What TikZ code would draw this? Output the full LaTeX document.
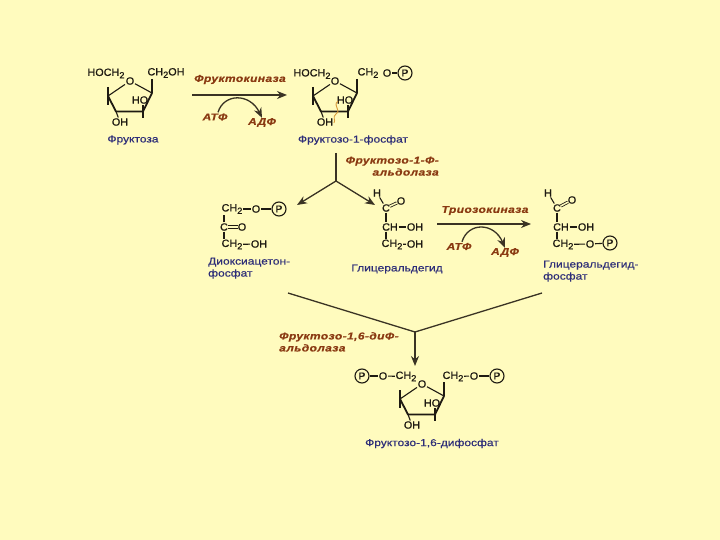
\documentclass[tikz,border=0pt]{standalone}
\usepackage{fontspec}
\setmainfont{Liberation Sans}
\newfontfamily\enzfont[FakeStretch=1.2,LetterSpace=4,FakeBold=0.4]{Liberation Sans Bold Italic}
\newfontfamily\lblfont[FakeStretch=1.2,FakeBold=0.5]{Liberation Sans}
\newfontfamily\chemfont[FakeStretch=1.03,FakeBold=0.9]{Liberation Sans}
\usetikzlibrary{arrows.meta,calc}
\definecolor{pageYel}{HTML}{FFFBBE}
\definecolor{ink}{HTML}{1E1A12}
\definecolor{lineInk}{HTML}{3A3324}
\definecolor{enzBrown}{HTML}{8A3A12}
\definecolor{lblBlue}{HTML}{2E2E78}
\definecolor{nickOrange}{HTML}{D89A3A}
\newcommand{\chemtwo}{\raisebox{-2.5pt}{\fontsize{9}{9}\selectfont 2}}
% furanose ring: name prefix, shift x, shift y
\newcommand{\furanring}[3]{%
  \begin{scope}[shift={(#2,#3)}]
    \node[chem] (#1o) at (130,-81) {O};
    \node[chem] (#1ho) at (140,-100) {HO};
    \node[chem] (#1oh) at (120,-122) {OH};
    \coordinate (#1a) at (108,-96);
    \coordinate (#1b) at (116,-111.5);
    \coordinate (#1c) at (143,-111.5);
    \coordinate (#1d) at (152,-93);
    \draw[bond] (#1a) -- (#1o);
    \draw[bond] (#1o) -- (#1d);
    \draw[front] (#1a) -- (#1b) -- (#1c) -- (#1d);
    \draw[bond] (108,-87) -- (#1a) -- (108,-105);
    \draw[bond] (152,-79) -- (#1d);
    \draw[bond] (#1b) -- (#1oh);
    \draw[bond] (143,-105) -- (143,-118);
  \end{scope}}
\begin{document}
\begin{tikzpicture}[x=1pt,y=1pt,
    chem/.style={font=\chemfont\fontsize{10.5}{11}\selectfont,text=ink,inner sep=0.6pt},
    cname/.style={font=\lblfont\fontsize{10}{12}\selectfont,text=lblBlue,inner sep=0pt,align=left},
    enzyme/.style={font=\enzfont\fontsize{10}{12}\selectfont,text=enzBrown,inner sep=0pt},
    phos/.style={draw=ink,line width=1.1pt,circle,minimum size=14pt,inner sep=0pt,text=ink,font=\chemfont\fontsize{10}{10}\selectfont},
    bond/.style={draw=ink,line width=1.1pt},
    dbond/.style={draw=ink,double=pageYel,double distance=1.5pt,line width=0.8pt,shorten <=-1pt,shorten >=-1pt},
    front/.style={draw=ink,line width=1.8pt,line join=round},
    flow/.style={-{Stealth[length=10pt,width=8pt]},line width=1.3pt,draw=lineInk},
    plainline/.style={line width=1.3pt,draw=lineInk}]

\useasboundingbox (0,0) rectangle (720,-540);
\fill[pageYel] (0,0) rectangle (720,-540);

% ======================= fructose =====================================================
\furanring{f}{0}{0}
\node[chem] (fleft) at (106,-73.5) {HOCH\chemtwo};
\node[chem] (fright) at (166,-73) {CH\chemtwo OH};
\node[cname] (fname) at (133,-140) {Фруктоза};

% ======================= first kinase step ============================================
\node[enzyme] (kin1) at (240,-79.5) {Фруктокиназа};
\coordinate (kin1a) at (192,-95);
\coordinate (kin1b) at (287,-95);
\draw[flow] (kin1a) -- (kin1b);
\node[enzyme] (atp1) at (215,-117) {АТФ};
\node[enzyme] (adp1) at (262,-122.5) {АДФ};
\draw[flow] (atp1.north) ++(3,1) .. controls (224,-93) and (250,-93) .. (adp1.north);

% ======================= fructose-1-phosphate =========================================
\furanring{m}{205}{0}
\node[chem] (mleft) at (312,-74) {HOCH\chemtwo};
\node[chem] (mright) at (368,-73) {CH\chemtwo};
\node[chem] (mo) at (387,-73) {O};
\node[phos] (mp) at (405,-73) {P};
\draw[bond] (mo) -- (mp);
\node[cname] (mname) at (353,-140) {Фруктозо-1-фосфат};
\draw[nickOrange,line width=0.9pt] (338,-101) .. controls (332,-106) and (342,-110) .. (336,-114) .. controls (332,-117) and (336,-120) .. (334,-123);

% ======================= aldolase fork ================================================
\coordinate (forka) at (336,-153);
\coordinate (forkb) at (336,-181);
\coordinate (dhend) at (297,-205);
\coordinate (glend) at (375,-205);
\draw[plainline] (forka) -- (forkb);
\draw[flow] (forkb) -- (dhend);
\draw[flow] (forkb) -- (glend);
\node[enzyme,align=right,anchor=north east] (ald1) at (439,-156.5) {Фруктозо-1-Ф-\\альдолаза};

% ======================= dihydroxyacetone phosphate ===================================
\node[chem] (d1) at (232,-209) {CH\chemtwo};
\node[chem] (d1o) at (256,-209) {O};
\node[phos] (d1p) at (279,-209) {P};
\node[chem] (d2) at (224,-227) {C};
\node[chem] (d2o) at (242,-227) {O};
\node[chem] (d3) at (232,-244.5) {CH\chemtwo};
\node[chem] (d3oh) at (259,-244) {OH};
\draw[bond] (d1) -- (d1o);
\draw[bond] (d1o) -- (d1p);
\draw[bond] (d2) -- (d2|-d1.south);
\draw[bond] (d2) -- (d2|-d3.north);
\draw[dbond] (d2) -- (d2o);
\draw[bond] (d3) -- (d3oh);
\node[cname,anchor=north west] (dname) at (208,-257.5) {Диоксиацетон-\\фосфат};

% ======================= glyceraldehyde ===============================================
\node[chem] (g0) at (377,-193) {H};
\node[chem] (g1) at (386,-208) {C};
\node[chem] (g1o) at (401,-201) {O};
\node[chem] (g2) at (390,-227) {CH};
\node[chem] (g2oh) at (415,-227) {OH};
\node[chem] (g3) at (392,-244.5) {CH\chemtwo};
\node[chem] (g3oh) at (415,-244) {OH};
\draw[bond] (g0) -- (g1);
\draw[dbond] (g1) -- (g1o);
\draw[bond] (g1) -- (g1|-g2.north);
\draw[bond] (g2) -- (g2oh);
\draw[bond] (g1|-g2.south) -- (g1|-g3.north);
\draw[bond] (g3) -- (g3oh);
\node[cname] (gname) at (397,-269) {Глицеральдегид};

% ======================= triose kinase step ===========================================
\node[enzyme] (kin2) at (485,-210.5) {Триозокиназа};
\coordinate (kin2a) at (437,-224);
\coordinate (kin2b) at (531,-224);
\draw[flow] (kin2a) -- (kin2b);
\node[enzyme] (atp2) at (459,-246.5) {АТФ};
\node[enzyme] (adp2) at (505,-252.5) {АДФ};
\draw[flow] (atp2.north) ++(3,1) .. controls (468,-222) and (494,-222) .. (adp2.north);

% ======================= glyceraldehyde phosphate =====================================
\node[chem] (t0) at (548,-193) {H};
\node[chem] (t1) at (557,-208) {C};
\node[chem] (t1o) at (572,-200) {O};
\node[chem] (t2) at (561,-227) {CH};
\node[chem] (t2oh) at (586,-227) {OH};
\node[chem] (t3) at (563,-244.5) {CH\chemtwo};
\node[chem] (t3o) at (590,-244) {O};
\node[phos] (t3p) at (610,-243) {P};
\draw[bond] (t0) -- (t1);
\draw[dbond] (t1) -- (t1o);
\draw[bond] (t1) -- (t1|-t2.north);
\draw[bond] (t2) -- (t2oh);
\draw[bond] (t1|-t2.south) -- (t1|-t3.north);
\draw[bond] (t3) -- (t3o);
\draw[bond] (t3o) -- (t3p);
\node[cname,anchor=north west] (tname) at (543,-260.5) {Глицеральдегид-\\фосфат};

% ======================= lower fork ===================================================
\coordinate (lowa) at (288,-293);
\coordinate (lowb) at (415,-332);
\coordinate (lowc) at (542,-293);
\coordinate (lowend) at (415,-366);
\draw[plainline] (lowa) -- (lowb) -- (lowc);
\draw[flow] (lowb) -- (lowend);
\node[enzyme,align=left,anchor=north west] (ald2) at (279,-332) {Фруктозо-1,6-диФ-\\альдолаза};

% ======================= fructose-1,6-bisphosphate ====================================
\furanring{b}{292}{-303}
\node[phos] (blp) at (362,-376) {P};
\node[chem] (blo) at (383,-376) {O};
\node[chem] (bleft) at (406,-376.5) {CH\chemtwo};
\node[chem] (bright) at (453,-376.5) {CH\chemtwo};
\node[chem] (bro) at (474,-376) {O};
\node[phos] (brp) at (497,-376) {P};
\draw[bond] (blp) -- (blo);
\draw[bond] (blo) -- (bleft);
\draw[bond] (bright) -- (bro);
\draw[bond] (bro) -- (brp);
\node[cname] (bname) at (432,-443.5) {Фруктозо-1,6-дифосфат};

\end{tikzpicture}
\end{document}
